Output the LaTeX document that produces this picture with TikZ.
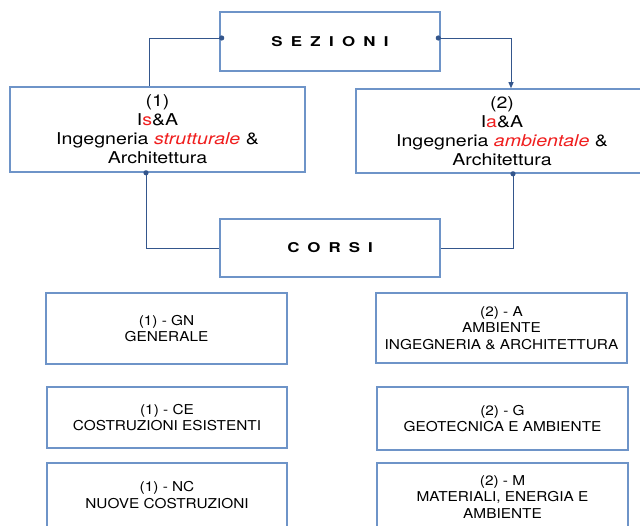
\documentclass[tikz,border=0pt]{standalone}
\usepackage{fontspec}
\setmainfont{TeX Gyre Heros}
\newfontfamily\mainwide[FakeStretch=1.2]{TeX Gyre Heros}
\newfontfamily\smallwide[FakeStretch=1.13]{TeX Gyre Heros}
\newfontfamily\titlewide[FakeStretch=1.25]{TeX Gyre Heros}
\usetikzlibrary{arrows.meta,calc}
\definecolor{boxblue}{HTML}{6E94C8}
\definecolor{linkblue}{HTML}{34568C}
\definecolor{redtxt}{HTML}{F01E1E}
\begin{document}
\begin{tikzpicture}[x=1pt,y=-1pt,
  box/.style={draw=boxblue,line width=1.6pt,fill=white,rectangle,inner sep=0pt,align=center,font=\mainwide\fontsize{16.3}{19}\selectfont},
  smallbox/.style={box,font=\smallwide\fontsize{13.6}{16.5}\selectfont},
  titlebox/.style={box,font=\titlewide\fontsize{13.5}{19}\selectfont\bfseries},
  conn/.style={draw=linkblue,line width=0.9pt},
  dotmark/.style={fill=linkblue,draw=none},
  arrowend/.style={-{Triangle[length=6pt,width=5pt]}}
]
\useasboundingbox (0,0) rectangle (640,525);
\clip (0,0) rectangle (640,525);
\node[titlebox,minimum width=220pt,minimum height=59pt] (sez) at (330,41.5)
  {S\hspace{8.3pt}E\hspace{8.3pt}Z\hspace{8.3pt}I\hspace{8.3pt}O\hspace{8.3pt}N\hspace{8.3pt}I};
\node[box,minimum width=295pt,minimum height=85pt] (b1) at (157.5,129.5)
  {(1)\\I{\color{redtxt}s}\&A\\Ingegneria {\color{redtxt}\itshape strutturale} \&\\Architettura};
\node[box,minimum width=292pt,minimum height=84pt] (b2) at (502,131)
  {(2)\\I{\color{redtxt}a}\&A\\Ingegneria {\color{redtxt}\itshape ambientale} \&\\Architettura};
\node[titlebox,minimum width=220pt,minimum height=58pt] (corsi) at (330,248)
  {C\hspace{8pt}O\hspace{8pt}R\hspace{8pt}S\hspace{8pt}I};
\node[smallbox,minimum width=241pt,minimum height=71pt] (gn) at (166.5,328.5)
  {(1) - GN\\GENERALE};
\node[smallbox,minimum width=251pt,minimum height=70pt] (amb) at (501.5,328)
  {(2) - A\\AMBIENTE\\INGEGNERIA \& ARCHITETTURA};
\node[smallbox,minimum width=240pt,minimum height=61pt] (ce) at (167,417.5)
  {(1) - CE\\COSTRUZIONI ESISTENTI};
\node[smallbox,minimum width=251pt,minimum height=63pt] (geo) at (502.5,418.5)
  {(2) - G\\GEOTECNICA E AMBIENTE};
\node[smallbox,minimum width=240pt,minimum height=64pt] (nc) at (167,495)
  {(1) - NC\\NUOVE COSTRUZIONI};
\node[smallbox,minimum width=251pt,minimum height=68pt] (mat) at (502.5,497)
  {(2) - M\\MATERIALI, ENERGIA E\\AMBIENTE};
% connector start points
\coordinate (s1) at ([xshift=2.5pt,yshift=3.5pt]sez.west);
\coordinate (s2) at ([xshift=-2.5pt,yshift=3.5pt]sez.east);
\coordinate (s3) at ([xshift=-11.5pt]b1.south);
\coordinate (s4) at ([xshift=11pt]b2.south);
% connectors
\draw[conn] (s1) -| ([xshift=-8.5pt]b1.north);
\draw[conn,arrowend] (s2) -| ([xshift=9pt]b2.north);
\draw[conn] (s3) |- (corsi.west);
\draw[conn] (s4) |- (corsi.east);
\foreach \p in {s1,s2,s3,s4} \fill[dotmark] (\p) circle (2.6pt);
\end{tikzpicture}
\end{document}
